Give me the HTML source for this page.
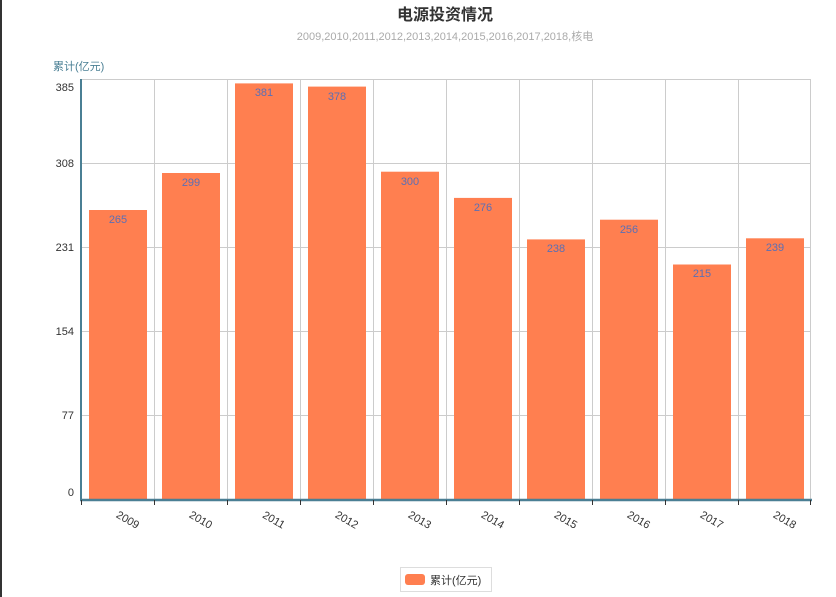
<!DOCTYPE html>
<html><head><meta charset="utf-8"><style>
html,body{margin:0;padding:0;background:#fff;}
svg{display:block;font-family:"Liberation Sans","Noto Sans CJK SC",sans-serif;}
</style></head><body>
<svg width="836" height="597" viewBox="0 0 836 597" xmlns="http://www.w3.org/2000/svg">
<rect width="836" height="597" fill="#fff"/>
<rect x="0" y="0" width="2" height="597" fill="#333"/>
<text x="445" y="20" text-anchor="middle" font-size="16" font-weight="bold" fill="#333">电源投资情况</text>
<text x="445" y="40" text-anchor="middle" font-size="11" fill="#aaa">2009,2010,2011,2012,2013,2014,2015,2016,2017,2018,核电</text>
<text x="53" y="70" font-size="11" fill="#4a7f94">累计(亿元)</text>
<g stroke="#ccc" stroke-width="1">
<line x1="81" y1="79.5" x2="811" y2="79.5"/>
<line x1="81" y1="163.5" x2="811" y2="163.5"/>
<line x1="81" y1="247.5" x2="811" y2="247.5"/>
<line x1="81" y1="331.5" x2="811" y2="331.5"/>
<line x1="81" y1="415.5" x2="811" y2="415.5"/>
<line x1="154.5" y1="79" x2="154.5" y2="499"/>
<line x1="227.5" y1="79" x2="227.5" y2="499"/>
<line x1="300.5" y1="79" x2="300.5" y2="499"/>
<line x1="373.5" y1="79" x2="373.5" y2="499"/>
<line x1="446.5" y1="79" x2="446.5" y2="499"/>
<line x1="519.5" y1="79" x2="519.5" y2="499"/>
<line x1="592.5" y1="79" x2="592.5" y2="499"/>
<line x1="665.5" y1="79" x2="665.5" y2="499"/>
<line x1="738.5" y1="79" x2="738.5" y2="499"/>
<line x1="810.5" y1="79" x2="810.5" y2="499"/>
</g>
<g font-size="11" fill="#333" text-anchor="end">
<text x="74" y="91">385</text>
<text x="74" y="167">308</text>
<text x="74" y="251">231</text>
<text x="74" y="335">154</text>
<text x="74" y="419">77</text>
<text x="74" y="496">0</text>
</g>
<g fill="#ff7f50">
<rect x="89" y="210" width="58" height="289"/>
<rect x="162" y="173" width="58" height="326"/>
<rect x="235" y="83.4" width="58" height="415.6"/>
<rect x="308" y="86.6" width="58" height="412.4"/>
<rect x="381" y="171.7" width="58" height="327.3"/>
<rect x="454" y="197.9" width="58" height="301.1"/>
<rect x="527" y="239.4" width="58" height="259.6"/>
<rect x="600" y="219.7" width="58" height="279.3"/>
<rect x="673" y="264.5" width="58" height="234.5"/>
<rect x="746" y="238.3" width="58" height="260.7"/>
</g>
<g font-size="11" fill="#5b6fb5" text-anchor="middle">
<text x="118" y="223">265</text>
<text x="191" y="186">299</text>
<text x="264" y="96">381</text>
<text x="337" y="100">378</text>
<text x="410" y="185">300</text>
<text x="483" y="211">276</text>
<text x="556" y="252">238</text>
<text x="629" y="233">256</text>
<text x="702" y="277">215</text>
<text x="775" y="251">239</text>
</g>
<line x1="81" y1="79" x2="81" y2="501" stroke="#4a7f94" stroke-width="2"/>
<line x1="80" y1="500" x2="812" y2="500" stroke="#4a7f94" stroke-width="2.5"/>
<g stroke="#333" stroke-width="1">
<line x1="81.5" y1="500" x2="81.5" y2="505"/>
<line x1="154.5" y1="500" x2="154.5" y2="505"/>
<line x1="227.5" y1="500" x2="227.5" y2="505"/>
<line x1="300.5" y1="500" x2="300.5" y2="505"/>
<line x1="373.5" y1="500" x2="373.5" y2="505"/>
<line x1="446.5" y1="500" x2="446.5" y2="505"/>
<line x1="519.5" y1="500" x2="519.5" y2="505"/>
<line x1="592.5" y1="500" x2="592.5" y2="505"/>
<line x1="665.5" y1="500" x2="665.5" y2="505"/>
<line x1="738.5" y1="500" x2="738.5" y2="505"/>
<line x1="810.5" y1="500" x2="810.5" y2="505"/>
</g>
<g font-size="11" fill="#333" text-anchor="middle">
<text transform="translate(126,523) rotate(30)">2009</text>
<text transform="translate(199,523) rotate(30)">2010</text>
<text transform="translate(272,523) rotate(30)">2011</text>
<text transform="translate(345,523) rotate(30)">2012</text>
<text transform="translate(418,523) rotate(30)">2013</text>
<text transform="translate(491,523) rotate(30)">2014</text>
<text transform="translate(564,523) rotate(30)">2015</text>
<text transform="translate(637,523) rotate(30)">2016</text>
<text transform="translate(710,523) rotate(30)">2017</text>
<text transform="translate(783,523) rotate(30)">2018</text>
</g>
<rect x="400.5" y="567.5" width="91" height="24" fill="#fff" stroke="#ddd"/>
<rect x="405" y="574" width="20" height="11" rx="3" fill="#ff7f50"/>
<text x="430" y="584" font-size="11" fill="#333">累计(亿元)</text>
</svg>
</body></html>
